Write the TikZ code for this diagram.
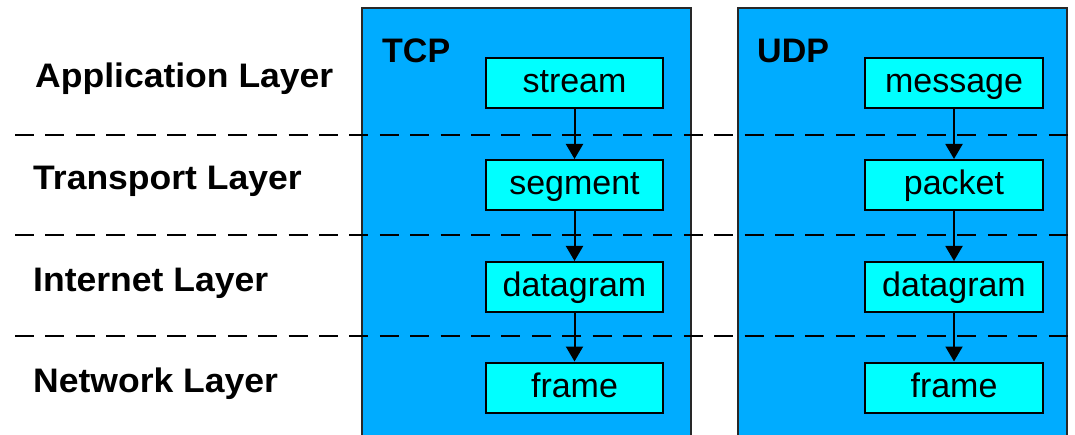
\documentclass[tikz,border=0pt]{standalone}
\usepackage{fontspec}
\setmainfont{Liberation Sans}
\newfontfamily\labfont[FakeStretch=1.045]{Liberation Sans}
\usetikzlibrary{arrows.meta}
\definecolor{protoblue}{RGB}{0,172,255}
\definecolor{pktcyan}{RGB}{0,255,255}
\definecolor{edgegray}{RGB}{40,40,40}
\begin{document}
\begin{tikzpicture}[x=1pt,y=-1pt,
  protobox/.style={draw=edgegray, line width=2pt, fill=protoblue, anchor=north west, inner sep=0, minimum width=329pt, minimum height=440pt},
  pkt/.style={draw=black, line width=2pt, fill=pktcyan, minimum width=177pt, minimum height=50pt, inner sep=0, text height=26pt, text depth=6pt, font=\fontsize{34}{40}\selectfont},
  layerlabel/.style={anchor=base west, inner sep=0, font=\labfont\bfseries\fontsize{34}{40}\selectfont},
  protolabel/.style={anchor=base west, inner sep=0, font=\bfseries\fontsize{34}{40}\selectfont},
  sep/.style={line width=2.2pt, dash pattern=on 19pt off 11.4pt},
  flow/.style={line width=2pt, -{Triangle[width=17pt,length=15pt]}}
]
\clip (0,0) rectangle (1075,435);
\fill[white] (0,0) rectangle (1075,435);

% protocol columns
\node[protobox] (tcp) at (361,7) {};
\node[protobox] (udp) at (737,7) {};
\node[protolabel] (tcplabel) at (382,63) {TCP};
\node[protolabel] (udplabel) at (757,63) {UDP};

% layer labels
\node[layerlabel] (app) at (35,88) {Application Layer};
\node[layerlabel] (trans) at (33,190) {Transport Layer};
\node[layerlabel] (inet) at (33,292) {Internet Layer};
\node[layerlabel] (net) at (33,392) {Network Layer};

% layer separators
\coordinate (d1l) at (15,135);   \coordinate (d1r) at (1075,135);
\coordinate (d2l) at (15,235);   \coordinate (d2r) at (1075,235);
\coordinate (d3l) at (15,336);   \coordinate (d3r) at (1075,336);
\draw[sep] (d1l) -- (d1r);
\draw[sep] (d2l) -- (d2r);
\draw[sep] (d3l) -- (d3r);

% TCP units
\node[pkt] (stream) at (574.5,83) {stream};
\node[pkt] (tseg) at (574.5,185) {segment};
\node[pkt] (tdgram) at (574.5,287) {datagram};
\node[pkt] (tframe) at (574.5,387.5) {frame};

% UDP units
\node[pkt, minimum width=178pt] (msg) at (954,83) {message};
\node[pkt, minimum width=178pt] (upkt) at (954,185) {packet};
\node[pkt, minimum width=178pt] (udgram) at (954,287) {datagram};
\node[pkt, minimum width=178pt] (uframe) at (954,387.5) {frame};

% flows
\draw[flow] (stream) -- (tseg);
\draw[flow] (tseg) -- (tdgram);
\draw[flow] (tdgram) -- (tframe);
\draw[flow] (msg) -- (upkt);
\draw[flow] (upkt) -- (udgram);
\draw[flow] (udgram) -- (uframe);
\end{tikzpicture}
\end{document}
